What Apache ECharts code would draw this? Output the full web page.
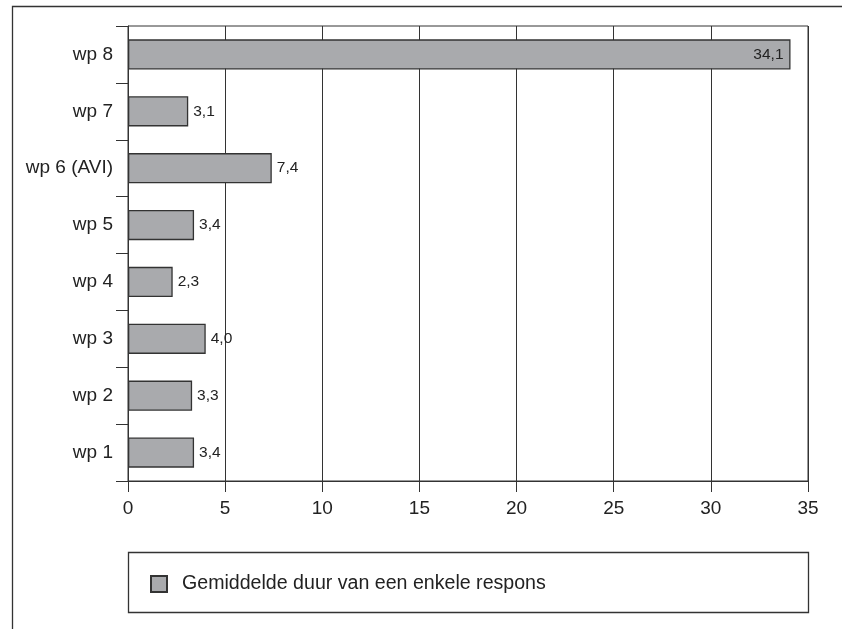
<!DOCTYPE html>
<html>
<head>
<meta charset="utf-8">
<script src="https://cdn.jsdelivr.net/npm/echarts@6/dist/echarts.min.js"></script>
<style>
html,body{margin:0;padding:0;background:#fff;}
#c{width:842px;height:629px;}
</style>
</head>
<body>
<div id="c"></div>
<script>
var categories = ['wp 1', 'wp 2', 'wp 3', 'wp 4', 'wp 5', 'wp 6 (AVI)', 'wp 7', 'wp 8'];
var values = [3.4, 3.3, 4.0, 2.3, 3.4, 7.4, 3.1, 34.1];
var seriesName = 'Gemiddelde duur van een enkele respons';
var xMin = 0, xMax = 35, xInterval = 5;

var FONT = '"Liberation Sans", Arial, Helvetica, sans-serif';
var LINE = '#333333';

var chart = echarts.init(document.getElementById('c'), null, {renderer: 'canvas'});

var data = values.map(function (v) {
  return {
    value: v,
    label: {position: v > 30 ? 'insideRight' : 'right', distance: v > 30 ? 7 : 5}
  };
});

chart.setOption({
  backgroundColor: '#ffffff',
  animation: false,
  textStyle: {fontFamily: FONT},
  grid: {
    left: 128, right: 34, top: 26, bottom: 148,
    show: true, borderColor: LINE, borderWidth: 1, backgroundColor: 'transparent'
  },
  xAxis: {
    type: 'value', min: xMin, max: xMax, interval: xInterval,
    axisLine: {show: true, lineStyle: {color: LINE, width: 1}},
    axisTick: {show: true, length: 11, lineStyle: {color: LINE, width: 1}},
    splitLine: {show: true, lineStyle: {color: LINE, width: 1}},
    axisLabel: {color: '#222', fontSize: 19, fontFamily: FONT, margin: 18}
  },
  yAxis: {
    type: 'category', data: categories,
    axisLine: {show: true, lineStyle: {color: LINE, width: 1}},
    axisTick: {show: true, length: 12, alignWithLabel: false, lineStyle: {color: LINE, width: 1}},
    splitLine: {show: false},
    axisLabel: {color: '#222', fontSize: 19, fontFamily: FONT, margin: 15}
  },
  legend: {
    show: true, left: 150, top: 574, padding: 0,
    data: [seriesName],
    icon: 'rect', itemWidth: 16, itemHeight: 16, itemGap: 10,
    textStyle: {color: '#222', fontSize: 19.6, fontFamily: FONT, padding: [0, 0, 0, 10]}
  },
  series: [{
    type: 'bar', name: seriesName, data: data,
    barWidth: '53%',
    itemStyle: {color: '#a9aaad', borderColor: LINE, borderWidth: 1.3},
    label: {
      show: true, color: '#222', fontSize: 15.5, fontFamily: FONT,
      formatter: function (p) { return p.value.toFixed(1).replace('.', ','); }
    }
  }],
  graphic: [
    {type: 'polyline', shape: {points: [[12.5, 629], [12.5, 6.5], [842, 6.5]]},
     style: {stroke: LINE, lineWidth: 1.3, fill: null}, silent: true},
    {type: 'rect', shape: {x: 128.5, y: 552.5, width: 680, height: 60},
     style: {stroke: LINE, lineWidth: 1.3, fill: null}, silent: true, z: -1}
  ]
});
</script>
</body>
</html>
